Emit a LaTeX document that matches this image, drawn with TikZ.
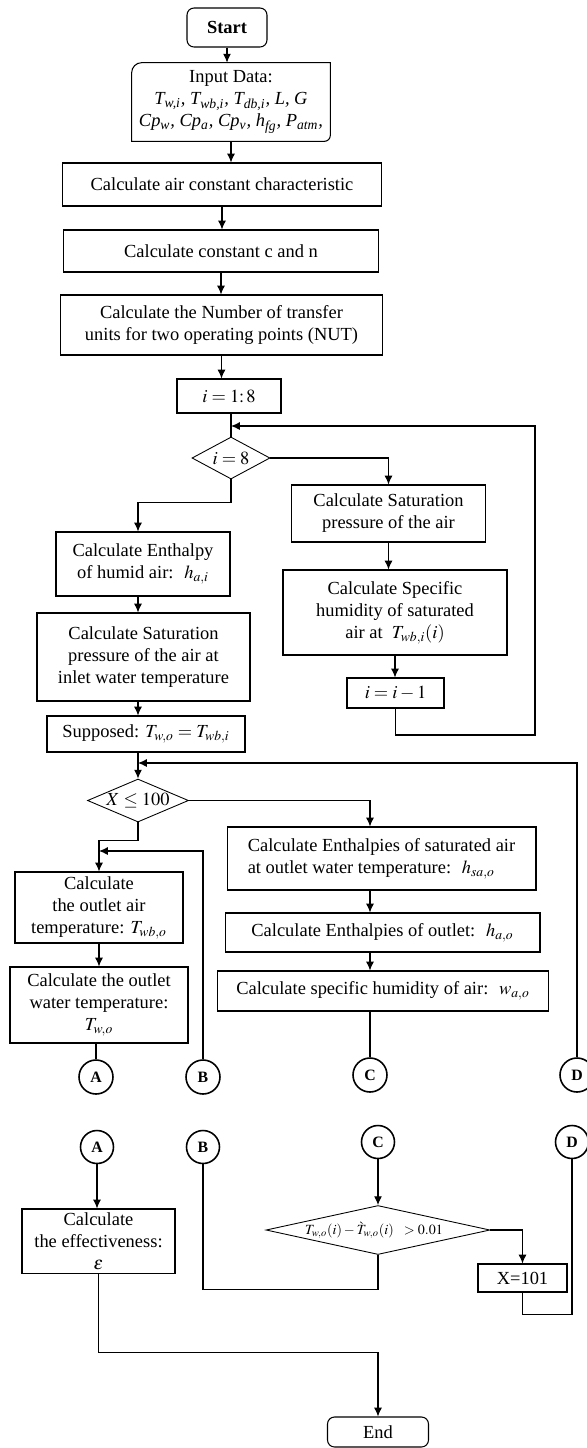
\documentclass[tikz,border=0pt]{standalone}
\usepackage{mathptmx}
\usepackage{fontspec}
\setmainfont{Liberation Serif}
\usetikzlibrary{calc,arrows.meta,positioning,shapes.geometric}

\begin{document}
\begin{tikzpicture}[x=0.02cm, y=-0.02cm, font=\fontsize{10.5}{12.5}\selectfont,
  box/.style={draw, line width=0.6pt, align=center, inner sep=2pt},
  term/.style={box, rounded corners=4pt},
  cond/.style={diamond, draw, line width=0.5pt, inner sep=0pt},
  conn/.style={circle, draw, line width=0.9pt, inner sep=0pt, minimum size=0.68cm, font=\fontsize{9}{10}\selectfont\bfseries},
  arr/.style={-{Latex[length=5pt,width=4.5pt]}, line width=0.6pt},
  wire/.style={line width=0.6pt}]
  \useasboundingbox (0,0) rectangle (587,1448);

  % top column
  \node[term, minimum width=1.6cm, minimum height=0.78cm] (start) at (227,27.5) {\textbf{Start}};
  \node[align=center, inner sep=2pt, minimum width=3.96cm, minimum height=1.56cm] (input) at (231,102)
       {Input Data:\\ \textit{T\textsubscript{w,i}, T\textsubscript{wb,i}, T\textsubscript{db,i}, L, G}\\
        \textit{Cp\textsubscript{w}, Cp\textsubscript{a}, Cp\textsubscript{v}, h\textsubscript{fg}, P\textsubscript{atm},}};
  \draw[line width=0.6pt] ([yshift=-0.2cm]input.north west) to[out=90,in=180] ([xshift=0.2cm]input.north west)
       -- (input.north east) -- ([yshift=0.12cm]input.south east) to[out=-90,in=0] ([xshift=-0.12cm]input.south east)
       -- (input.south west) -- cycle;
  \node[box, minimum width=6.4cm, minimum height=0.86cm] (air) at (222,184.5) {Calculate air constant characteristic};
  \node[box, minimum width=6.32cm, minimum height=0.84cm] (cn) at (221,251) {Calculate constant c and n};
  \node[box, minimum width=6.46cm, minimum height=1.2cm] (nut) at (221.5,325)
       {Calculate the Number of transfer\\units for two operating points (NUT)};
  \node[box, minimum width=2.08cm, minimum height=0.68cm] (ione) at (229,396) {$i = 1{:}\,8$};
  \node[cond, minimum width=1.56cm, minimum height=0.84cm, label=center:{$i = 8$}] (dia1) at (231,458) {};

  % right loop
  \node[box, minimum width=3.88cm, minimum height=1.14cm] (satR) at (388.5,513.5) {Calculate Saturation\\pressure of the air};
  \node[box, minimum width=4.48cm, minimum height=1.7cm] (spec) at (395,612.5)
       {Calculate Specific\\humidity of saturated\\air at~ $T_{wb,i}(i)$};
  \node[box, minimum width=1.94cm, minimum height=0.6cm] (idec) at (395.5,693) {$i = i - 1$};

  % left column
  \node[box, minimum width=3.48cm, minimum height=1.28cm] (enth) at (143,564) {Calculate Enthalpy\\of humid air:~ $h_{a,i}$};
  \node[box, minimum width=4.26cm, minimum height=1.76cm] (satL) at (143.5,657)
       {Calculate Saturation\\pressure of the air at\\inlet water temperature};
  \node[box, minimum width=3.96cm, minimum height=0.72cm] (supp) at (146,734) {Supposed: $T_{w,o} = T_{wb,i}$};
  \node[cond, minimum width=2.02cm, minimum height=0.86cm, label=center:{$X \le 100$}] (dia2) at (138,800.5) {};
  \node[box, minimum width=3.36cm, minimum height=1.42cm] (outair) at (99,907.5) {Calculate\\the outlet air\\temperature: $T_{wb,o}$};
  \node[box, minimum width=3.56cm, minimum height=1.52cm] (outwat) at (99,1005) {Calculate the outlet\\water temperature:\\$T_{w,o}$};

  % right column
  \node[box, align=left, minimum width=6.18cm, minimum height=1.26cm] (hsa) at (381.5,858.5)
       {Calculate Enthalpies of saturated air\\at outlet water temperature:~ $h_{sa,o}$};
  \node[box, minimum width=6.3cm, minimum height=0.78cm] (hao) at (382.5,932.5) {Calculate Enthalpies of outlet:~ $h_{a,o}$};
  \node[box, minimum width=6.64cm, minimum height=0.8cm] (wao) at (383,991) {Calculate specific humidity of air:~ $w_{a,o}$};

  % connectors, first page
  \node[conn] (cA) at (96,1077) {A};
  \node[conn] (cB) at (203,1077) {B};
  \node[conn] (cC) at (370,1075) {C};
  \node[conn] (cD) at (577,1075) {D};

  % connectors, second page
  \node[conn, minimum size=0.66cm] (cA2) at (97,1147) {A};
  \node[conn, minimum size=0.66cm] (cB2) at (203,1147) {B};
  \node[conn, minimum size=0.66cm] (cC2) at (378,1142) {C};
  \node[conn, minimum size=0.66cm] (cD2) at (572,1142) {D};
  \node[box, minimum width=3.06cm, minimum height=1.28cm] (eff) at (98.5,1241) {Calculate\\the effectiveness:\\$\varepsilon$};
  \node[cond, minimum width=4.48cm, minimum height=0.98cm,
        label={[font=\fontsize{8}{9}\selectfont, xshift=-0.08cm]center:{$T_{w,o}(i) - \grave{T}_{w,o}(i)\ \ > 0.01$}}] (dia3) at (378,1230) {};
  \node[box, minimum width=1.78cm, minimum height=0.56cm] (x101) at (522.5,1278) {X=101};
  \node[term, minimum width=2.02cm, minimum height=0.6cm] (endn) at (378,1432) {End};

  \coordinate (jLoop) at (231,426);
  \coordinate (rLoop) at (535,735);
  \coordinate (colL) at (138,0);
  \coordinate (colC) at (370,0);
  \coordinate (jD) at (138,763);
  \coordinate (jB) at (99,851);

  \draw[arr] (start) -- (start |- input.north);
  \draw[arr] (input) -- (input |- air.north);
  \draw[arr] (air) -- (air |- cn.north);
  \draw[arr] (cn) -- (cn |- nut.north);
  \draw[arr] (nut) -- (nut |- ione.north);
  \draw[wire] (dia1.north |- ione.south) -- (dia1.north);
  \draw[arr] (idec) |- (rLoop) |- (jLoop);
  \draw[arr] (dia1.east) -| (satR.north);
  \draw[arr] (satR) -- (satR |- spec.north);
  \draw[arr] (spec) -- (spec |- idec.north);
  \draw[arr] (dia1.south) -- ++(0,23) -| (colL |- enth.north);
  \draw[arr] (colL |- enth.south) -- (colL |- satL.north);
  \draw[arr] (colL |- satL.south) -- (colL |- supp.north);
  \draw[arr] (colL |- supp.south) -- (dia2.north);
  \draw[arr] (cD) |- (jD);
  \draw[arr] (dia2.east) -| (colC |- hsa.north);
  \draw[arr] (colC |- hsa.south) -- (colC |- hao.north);
  \draw[arr] (colC |- hao.south) -- (colC |- wao.north);
  \draw[wire] (colC |- wao.south) -- (cC);
  \draw[arr] (dia2.south) -- ++(0,18) -| (outair.north);
  \draw[arr] (cB) |- (jB);
  \draw[arr] (outair) -- (outair |- outwat.north);
  \draw[wire] (cA |- outwat.south) -- (cA);

  \draw[arr] (cA2) -- (cA2 |- eff.north);
  \draw[arr] (eff.south) -- ++(0,79) -| (endn.north);
  \draw[arr] (cC2) -- (dia3.north);
  \draw[wire] (dia3.south) -- ++(0,35) -| (cB2);
  \draw[arr] (dia3.east) -| (x101.north);
  \draw[wire] (x101.south) -- ++(0,22) -| (cD2);
\end{tikzpicture}
\end{document}
